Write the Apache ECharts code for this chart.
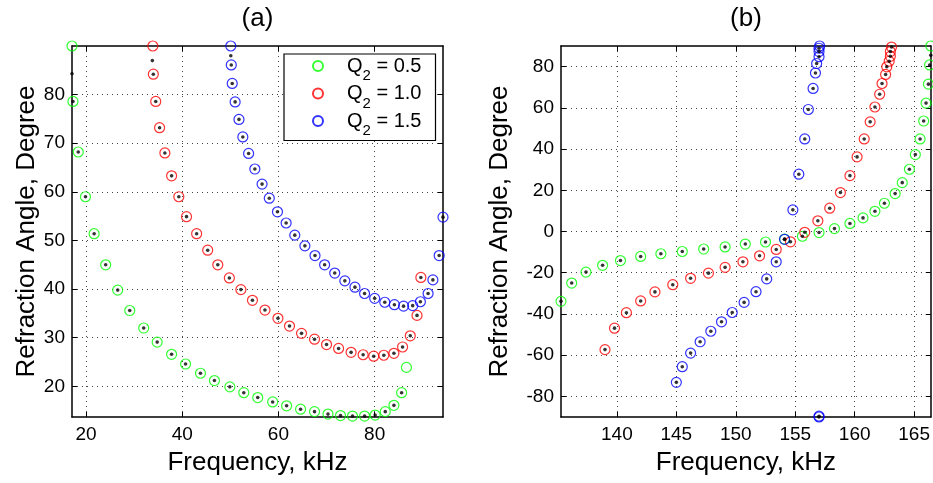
<!DOCTYPE html>
<html><head><meta charset="utf-8">
<script src="https://cdn.jsdelivr.net/npm/echarts@6/dist/echarts.min.js"></script>
<style>html,body{margin:0;padding:0;background:#fff}#c{width:933px;height:483px}</style>
</head><body><div id="c"></div>
<script>
const FONT = '"Liberation Sans", Arial, Helvetica, sans-serif';

// ---------- panel (a) ----------
const aXTicks = [20, 40, 60, 80];
const aYTicks = [20, 30, 40, 50, 60, 70, 80];
const aGreen = [[17.1,90],[17.3,78.6],[18.4,68.2],[19.9,59.0],[21.7,51.4],[24.1,45.0],[26.6,39.8],[29.1,35.6],[32.0,32.0],[34.8,29.1],[37.8,26.6],[40.7,24.6],[43.8,22.7],[46.7,21.2],[49.9,19.9],[52.8,18.7],[55.7,17.7],[58.8,16.8],[61.7,16.0],[64.6,15.3],[67.5,14.8],[70.3,14.3],[72.9,14.0],[75.4,13.9],[77.9,13.9],[80.1,14.1],[82.2,14.8],[84.0,16.1],[85.6,18.7],[86.6,23.9]];
const aRed = [[33.9,90],[34.0,84.2],[34.5,78.6],[35.3,73.2],[36.4,68.0],[37.8,63.3],[39.3,59.0],[40.9,54.9],[43.0,51.4],[45.3,48.0],[47.4,45.0],[49.8,42.3],[52.2,39.9],[54.6,37.7],[57.2,35.7],[59.9,34.0],[62.3,32.4],[64.8,30.9],[67.5,29.7],[70.0,28.6],[72.5,27.8],[75.1,27.0],[77.6,26.5],[79.8,26.2],[81.9,26.4],[84.0,26.8],[85.8,28.1],[87.4,30.4],[88.8,34.6],[89.6,42.4]];
const aBlue = [[50.1,90],[50.2,86.1],[50.4,82.3],[51.0,78.5],[51.8,74.9],[52.6,71.3],[53.8,67.9],[55.1,64.7],[56.6,61.6],[58.1,58.7],[59.8,55.9],[61.6,53.6],[63.4,51.1],[65.5,48.9],[67.6,46.9],[69.6,45.0],[71.7,43.3],[73.8,41.7],[75.9,40.4],[77.9,39.1],[80.0,38.1],[82.1,37.3],[84.1,36.8],[86.0,36.5],[87.9,36.6],[89.5,37.4],[91.1,39.1],[92.1,41.9],[93.4,46.9],[94.2,54.8]];
// black dots that have no circle
const aLoneDots = [[17.1,84.3],[33.8,87.0],[50.1,88.0]];
// circles that have no black dot
const aNoDot = [[86.6,23.9]];

// ---------- panel (b) ----------
const bXTicks = [140, 145, 150, 155, 160, 165];
const bYTicks = [-80, -60, -40, -20, 0, 20, 40, 60, 80];
const bGreen = [[135.3,-33.9],[136.2,-25.0],[137.4,-19.7],[138.8,-16.4],[140.3,-14.1],[142.0,-12.1],[143.7,-10.8],[145.5,-9.7],[147.3,-8.5],[149.1,-7.5],[150.8,-6.1],[152.5,-5.1],[154.1,-3.7],[155.6,-2.3],[157.0,-0.5],[158.3,1.4],[159.6,3.9],[160.7,6.6],[161.7,9.8],[162.5,13.7],[163.4,18.4],[164.0,23.7],[164.6,30.2],[165.1,37.3],[165.5,44.9],[165.8,53.6],[166.0,62.3],[166.2,71.5],[166.3,80.8],[166.4,90]];
const bRed = [[139.0,-57.3],[139.8,-46.9],[140.8,-39.4],[142.0,-33.7],[143.2,-29.3],[144.7,-25.8],[146.2,-22.7],[147.7,-20.2],[149.1,-17.4],[150.6,-14.7],[152.0,-11.8],[153.4,-8.7],[154.6,-5.0],[155.8,-0.4],[156.9,5.2],[157.9,11.3],[158.8,18.9],[159.6,27.1],[160.2,36.2],[160.8,44.9],[161.3,53.2],[161.7,60.4],[162.1,66.6],[162.3,71.8],[162.6,76.2],[162.7,79.9],[162.9,82.6],[163.0,85.0],[163.0,87.3],[163.1,89.5]];
const bBlue = [[145.0,-73.2],[145.5,-65.6],[146.2,-59.0],[147.0,-53.5],[147.9,-48.4],[148.8,-43.8],[149.7,-39.3],[150.7,-34.4],[151.7,-29.2],[152.6,-23.0],[153.4,-14.7],[154.1,-3.8],[154.8,10.5],[155.3,27.8],[155.8,44.9],[156.1,59.2],[156.5,69.4],[156.7,76.9],[156.8,81.5],[157.0,84.8],[157.0,87.3],[157.0,88.9],[157.05,90],[157.0,-89.6],[157.0,-90]];
const bLoneDots = [[166.4,85.5]];
const bNoDot = [];

const seriesNames = ['Q2 = 0.5', 'Q2 = 1.0', 'Q2 = 1.5'];
const seriesColors = ['#00ff00', '#ff0000', '#0000ff'];

const aRange = {xmin: 17.1, xmax: 94.2, ymin: 13.7, ymax: 90};
const bRange = {xmin: 135.3, xmax: 166.4, ymin: -90, ymax: 90};

function same(p, q) { return p[0] === q[0] && p[1] === q[1]; }
function dotsFrom(sets, lone, noDot) {
  let out = [];
  sets.forEach(s => s.forEach(p => {
    if (p[1] >= 90) return;
    if (noDot.some(q => same(p, q))) return;
    out.push(p);
  }));
  return out.concat(lone);
}

function circleSeries(name, data, color, gi) {
  return {type: 'scatter', name, xAxisIndex: gi * 2, yAxisIndex: gi * 2, data,
    symbol: 'circle', symbolSize: 10, clip: false, silent: true, z: 3,
    itemStyle: {color: 'rgba(255,255,255,0)', borderColor: color, borderWidth: 1.2},
    emphasis: {disabled: true}};
}
function dotSeries(data, gi) {
  return {type: 'scatter', name: 'exact', xAxisIndex: gi * 2, yAxisIndex: gi * 2, data,
    symbol: 'circle', symbolSize: 3.6, clip: false, silent: true, z: 4,
    itemStyle: {color: '#000'}, emphasis: {disabled: true}};
}

const axisLineStyle = {color: '#000', width: 1.5};
function mainX(gi, r, ticks, name) {
  return {type: 'value', gridIndex: gi, position: 'bottom', min: r.xmin, max: r.xmax,
    axisLine: {show: true, onZero: false, lineStyle: axisLineStyle},
    axisTick: {show: true, inside: true, length: 5, customValues: ticks, lineStyle: {color: '#000'}},
    axisLabel: {customValues: ticks, color: '#000', fontSize: 19, fontFamily: FONT, margin: 8},
    splitLine: {show: true, lineStyle: {color: '#444', type: [1, 4], width: 1}},
    name, nameLocation: 'middle', nameGap: 33,
    nameTextStyle: {fontSize: 26, fontFamily: FONT, color: '#000'}};
}
function topX(gi, r, ticks, title) {
  return {type: 'value', gridIndex: gi, position: 'top', min: r.xmin, max: r.xmax,
    axisLine: {show: true, onZero: false, lineStyle: axisLineStyle},
    axisTick: {show: true, inside: true, length: 5, customValues: ticks, lineStyle: {color: '#000'}},
    axisLabel: {show: false}, splitLine: {show: false},
    name: title, nameLocation: 'middle', nameGap: 14,
    nameTextStyle: {fontSize: 26, fontFamily: FONT, color: '#000'}};
}
function mainY(gi, r, ticks, name, gap) {
  return {type: 'value', gridIndex: gi, position: 'left', min: r.ymin, max: r.ymax,
    axisLine: {show: true, onZero: false, lineStyle: axisLineStyle},
    axisTick: {show: true, inside: true, length: 5, customValues: ticks, lineStyle: {color: '#000'}},
    axisLabel: {customValues: ticks, color: '#000', fontSize: 19, fontFamily: FONT, margin: 7},
    splitLine: {show: true, lineStyle: {color: '#444', type: [1, 4], width: 1}},
    name, nameLocation: 'middle', nameGap: gap,
    nameTextStyle: {fontSize: 26, fontFamily: FONT, color: '#000'}};
}
function rightY(gi, r, ticks) {
  return {type: 'value', gridIndex: gi, position: 'right', min: r.ymin, max: r.ymax,
    axisLine: {show: true, onZero: false, lineStyle: axisLineStyle},
    axisTick: {show: true, inside: true, length: 5, customValues: ticks, lineStyle: {color: '#000'}},
    axisLabel: {show: false}, splitLine: {show: false}};
}

const aSets = [aGreen, aRed, aBlue];
const bSets = [bGreen, bRed, bBlue];
const series = [];
aSets.forEach((s, i) => series.push(circleSeries(seriesNames[i], s, seriesColors[i], 0)));
bSets.forEach((s, i) => series.push(circleSeries(seriesNames[i], s, seriesColors[i], 1)));
series.push(dotSeries(dotsFrom(aSets, aLoneDots, aNoDot), 0));
series.push(dotSeries(dotsFrom(bSets, bLoneDots, bNoDot), 1));

const option = {
  animation: false,
  backgroundColor: '#fff',
  grid: [
    {left: 72, top: 46, width: 371, height: 371, containLabel: false},
    {left: 561, top: 46, width: 371, height: 371, containLabel: false}
  ],
  xAxis: [
    mainX(0, aRange, aXTicks, 'Frequency, kHz'),
    topX(0, aRange, aXTicks, '(a)'),
    mainX(1, bRange, bXTicks, 'Frequency, kHz'),
    topX(1, bRange, bXTicks, '(b)')
  ],
  yAxis: [
    mainY(0, aRange, aYTicks, 'Refraction Angle, Degree', 32),
    rightY(0, aRange, aYTicks),
    mainY(1, bRange, bYTicks, 'Refraction Angle, Degree', 48),
    rightY(1, bRange, bYTicks)
  ],
  legend: {
    data: seriesNames,
    orient: 'vertical',
    left: 284, top: 54,
    padding: [2, 14, 2, 28],
    itemGap: 0,
    itemWidth: 10, itemHeight: 10,
    backgroundColor: '#fff',
    borderColor: '#000', borderWidth: 1.2,
    selectedMode: false,
    formatter: n => '{sp| }{q|Q}{s|2}{q| = ' + n.split('= ')[1] + '}',
    textStyle: {
      fontSize: 20, fontFamily: FONT, color: '#000',
      rich: {
        sp: {width: 19, fontSize: 20, fontFamily: FONT},
        q: {fontSize: 20, fontFamily: FONT, color: '#000'},
        s: {fontSize: 15, fontFamily: FONT, color: '#000', padding: [20, 0, 0, 0]}
      }
    }
  },
  series
};
const chart = echarts.init(document.getElementById('c'));
chart.setOption(option);
</script></body></html>
